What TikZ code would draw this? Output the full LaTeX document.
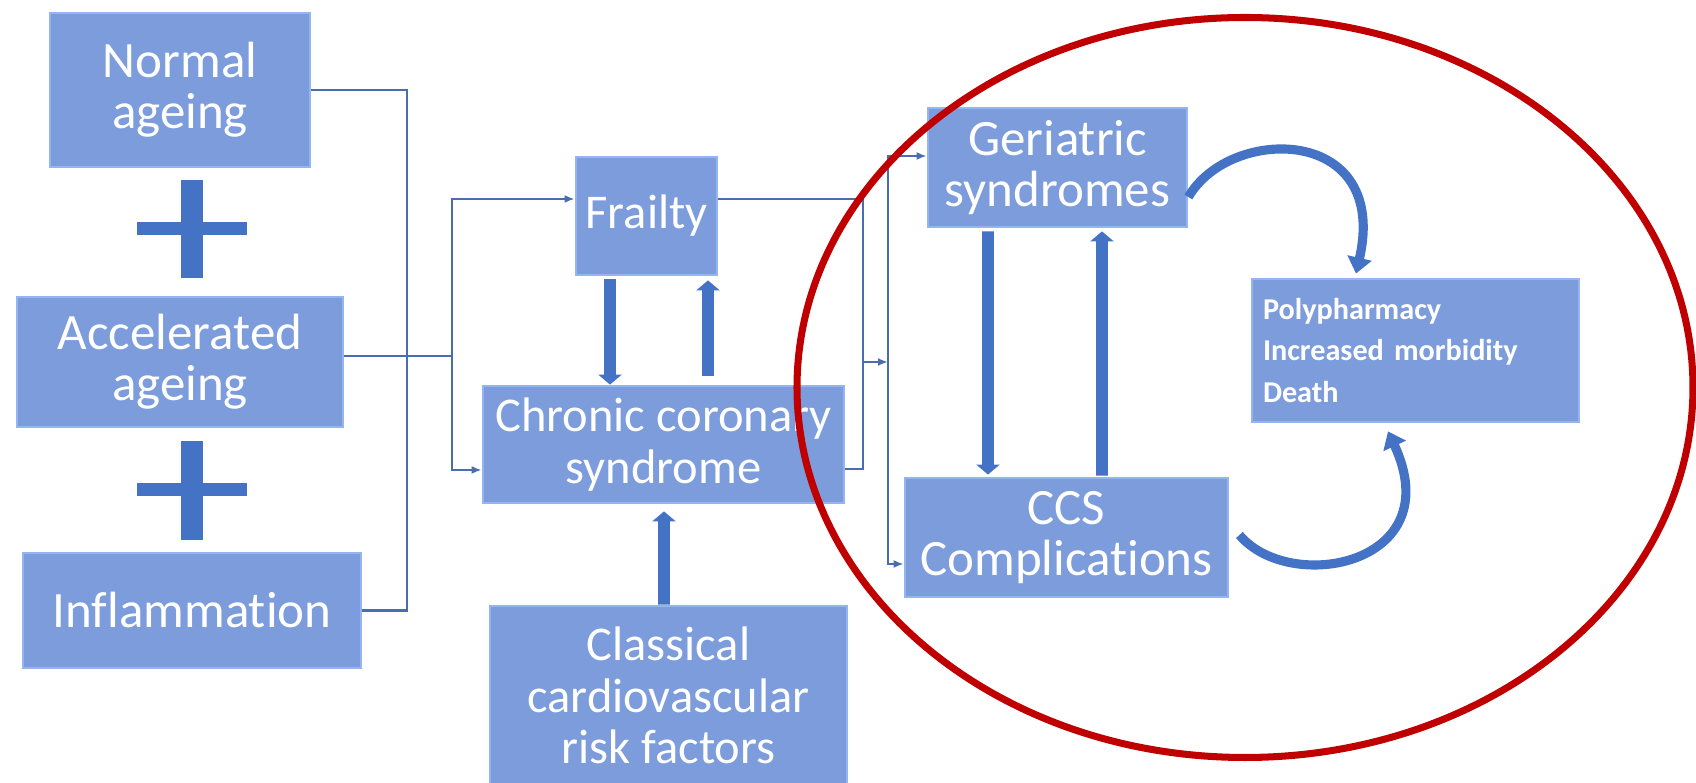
\documentclass[tikz,border=0pt]{standalone}
\usepackage{fontspec}
\setmainfont{Carlito}[Ligatures=NoCommon]
\usetikzlibrary{arrows.meta, positioning, calc}
\definecolor{boxBlue}{HTML}{7C9CDC}
\definecolor{boxEdge}{HTML}{94B4F2}
\definecolor{accBlue}{HTML}{4472C4}
\definecolor{lineBlue}{HTML}{4A6CB0}
\definecolor{ringRed}{HTML}{C00000}

\begin{document}
\begin{tikzpicture}[
    caja/.style={fill=boxBlue, draw=boxEdge, line width=0.8pt, align=center,
                 text=white, inner sep=0pt, font=\fontsize{14.5}{14.6}\selectfont},
    cajam/.style={caja, font=\fontsize{13.8}{14.6}\selectfont},
    ln/.style={line width=0.6pt, color=lineBlue},
    fl/.style={ln, -{Latex[length=1mm, width=0.8mm]}},
    gr/.style={line width=3.4pt, color=accBlue, -{Triangle[length=1mm, width=2.3mm]}},
    cur/.style={line width=2.6pt, color=accBlue, -{Triangle[length=1.6mm, width=2.4mm]}}]
    \useasboundingbox[fill=white] (0,0) rectangle (16.96,-7.83);
    \node[caja, minimum width=2.60cm, minimum height=1.54cm] (normal) at (1.80,-0.90) {Normal\\ageing};
    \node[caja, minimum width=3.26cm, minimum height=1.30cm] (accel) at (1.80,-3.62) {Accelerated\\ageing};
    \node[caja, minimum width=3.38cm, minimum height=1.15cm] (inflam) at (1.92,-6.105) {Inflammation};
    \node[cajam, minimum width=1.41cm, minimum height=1.18cm] (frailty) at (6.465,-2.16) {Frailty};
    \node[cajam, minimum width=3.61cm, minimum height=1.17cm] (chronic) at (6.635,-4.445) {Chronic coronary\\syndrome};
    \node[cajam, minimum width=3.57cm, minimum height=1.79cm] (classic) at (6.685,-6.955) {Classical\\cardiovascular\\risk factors};
    \node[caja, minimum width=2.59cm, minimum height=1.19cm] (geri) at (10.575,-1.675) {Geriatric\\syndromes};
    \node[caja, minimum width=3.23cm, minimum height=1.19cm] (ccsc) at (10.665,-5.375) {CCS\\Complications};
    \node[caja, minimum width=3.27cm, minimum height=1.43cm, align=left, text width=3.05cm,
          font=\bfseries\fontsize{8.6}{11.8}\selectfont] (poly) at (14.155,-3.505)
          {Polypharmacy\\Increased morbidity\\Death};
    \fill[accBlue] (1.81,-1.80) rectangle (2.03,-2.78);
    \fill[accBlue] (1.37,-2.22) rectangle (2.47,-2.35);
    \fill[accBlue] (1.81,-4.41) rectangle (2.03,-5.40);
    \fill[accBlue] (1.37,-4.83) rectangle (2.47,-4.96);
    \coordinate (b1) at (4.07,-3.56);
    \coordinate (j1) at (4.52,-3.56);
    \coordinate (j2) at (8.63,-3.62);
    \coordinate (j3) at (8.88,-3.62);
    \draw[ln] (normal.east) -| (b1) |- (inflam.east);
    \draw[ln] (accel.east |- j1) -- (j1);
    \draw[fl] (j1) |- ([yshift=0.17cm]frailty.west);
    \draw[fl] (j1) |- ([yshift=-0.255cm]chronic.west);
    \draw[ln] ([yshift=0.17cm]frailty.east) -| (j2) |- ([yshift=-0.245cm]chronic.east);
    \draw[fl] (j2) -- (j3);
    \draw[fl] (j3) |- ([yshift=0.115cm]geri.west);
    \draw[fl] (j3) |- ([yshift=-0.265cm]ccsc.west);
    \draw[gr, shorten <=0.03cm] ([xshift=-0.365cm]frailty.south) -- ([xshift=-0.535cm]chronic.north);
    \draw[gr, shorten <=0.09cm, shorten >=0.04cm] ([xshift=0.445cm]chronic.north) -- ([xshift=0.615cm]frailty.south);
    \draw[gr, shorten >=0.07cm] ([xshift=-0.045cm]classic.north) -- ([xshift=0.005cm]chronic.south);
    \draw[gr, shorten <=0.03cm, shorten >=0.02cm] ([xshift=-0.695cm]geri.south) -- ([xshift=-0.785cm]ccsc.north);
    \draw[gr, shorten <=0.01cm, shorten >=0.03cm] ([xshift=0.355cm]ccsc.north) -- ([xshift=0.445cm]geri.south);
    \draw[cur] ([yshift=-0.295cm]geri.east) .. controls (12.30,-1.25) and (13.90,-1.25)
        .. ([shift={(-0.595cm,0.04cm)}]poly.north);
    \draw[cur] ([shift={(0.10cm,0.025cm)}]ccsc.east) .. controls (12.90,-5.95) and (14.50,-5.65)
        .. ([shift={(-0.275cm,-0.08cm)}]poly.south);
    \draw[ringRed, line width=2pt] (12.45,-3.875) ellipse [x radius=4.48, y radius=3.70];
  \end{tikzpicture}
\end{document}
